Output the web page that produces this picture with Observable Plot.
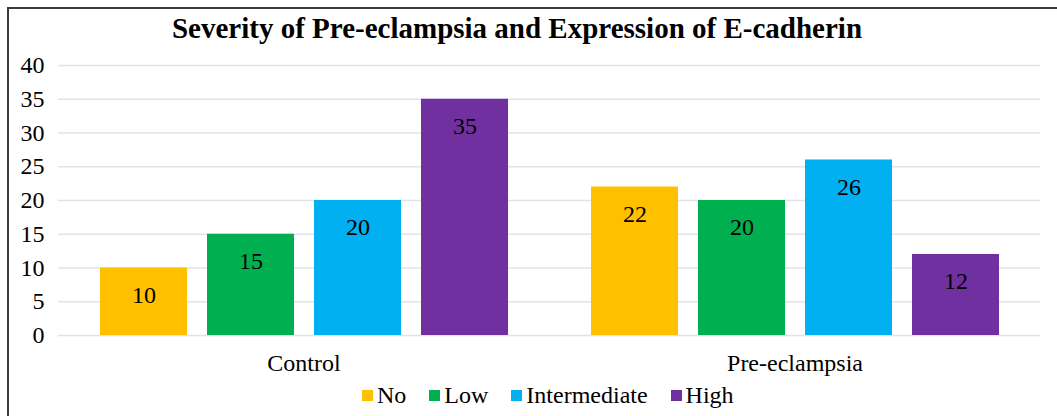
<!DOCTYPE html>
<html>
<head>
<meta charset="utf-8">
<script src="https://cdn.jsdelivr.net/npm/d3@7"></script>
<script src="https://cdn.jsdelivr.net/npm/@observablehq/plot@0.6"></script>
<style>
  html, body { margin: 0; padding: 0; background: #fff; }
  body { width: 1057px; height: 416px; position: relative; overflow: hidden; font-family: "Liberation Serif", serif; }
  #frame { position: absolute; left: 7px; top: 7px; width: 1060px; height: 420px; border-top: 2px solid #3a3a3a; border-left: 2px solid #3a3a3a; box-sizing: border-box; }
  #title { position: absolute; left: 0; width: 1034px; top: 12px; text-align: center; font-weight: bold; font-size: 29px; color: #000; white-space: nowrap; }
  #chart { position: absolute; left: 0; top: 0; }
  #legend { position: absolute; top: 382px; left: 362px; display: flex; font-size: 24px; color: #000; white-space: nowrap; }
  .item { display: flex; align-items: center; margin-right: 23px; }
  .sw { width: 11px; height: 11px; margin-right: 4px; display: inline-block; }
</style>
</head>
<body>
<div id="frame"></div>
<div id="chart"></div>
<div id="title">Severity of Pre-eclampsia and Expression of E-cadherin</div>
<div id="legend"></div>
<script>
const groups = ["Control", "Pre-eclampsia"];
const levels = ["No", "Low", "Intermediate", "High"];
const controlValues = [10, 15, 20, 35];
const preeclampsiaValues = [22, 20, 26, 12];
const levelColors = ["#FFC000", "#00B050", "#00B0F0", "#7030A0"];
const yTicks = [0, 5, 10, 15, 20, 25, 30, 35, 40];

const seriesByGroup = [controlValues, preeclampsiaValues];
const data = [];
groups.forEach((g, gi) => levels.forEach((l, li) => data.push({group: g, level: l, value: seriesByGroup[gi][li]})));

const font = "Liberation Serif, serif";
const chart = Plot.plot({
  width: 1057,
  height: 380,
  marginLeft: 57,
  marginRight: 17,
  marginTop: 65,
  marginBottom: 45,
  style: {fontFamily: font, background: "transparent", color: "#000"},
  fx: {domain: groups, padding: 0, label: null},
  x: {domain: levels, paddingInner: 0.19, paddingOuter: 0.38, axis: null},
  y: {domain: [0, 40], label: null},
  color: {domain: levels, range: levelColors},
  marks: [
    Plot.gridY(yTicks, {stroke: "#dfe3ea", strokeOpacity: 1, strokeWidth: 1.5}),
    Plot.barY(data, {fx: "group", x: "level", y: "value", fill: "level"}),
    Plot.text(data, {fx: "group", x: "level", y: "value", text: d => String(d.value), dy: 27, fontSize: 24, fontFamily: font, fill: "#000", lineAnchor: "middle"}),
    Plot.axisY(yTicks, {tickSize: 0, tickPadding: 14, fontSize: 24, fontFamily: font, label: null, fill: "#000"}),
    Plot.axisFx({anchor: "bottom", tickSize: 0, tickPadding: 18, fontSize: 24, fontFamily: font, label: null, fill: "#000"})
  ]
});
document.getElementById("chart").appendChild(chart);

const legend = document.getElementById("legend");
levels.forEach((l, i) => {
  const item = document.createElement("span");
  item.className = "item";
  const sw = document.createElement("span");
  sw.className = "sw";
  sw.style.background = levelColors[i];
  item.appendChild(sw);
  item.appendChild(document.createTextNode(l));
  legend.appendChild(item);
});
</script>
</body>
</html>
